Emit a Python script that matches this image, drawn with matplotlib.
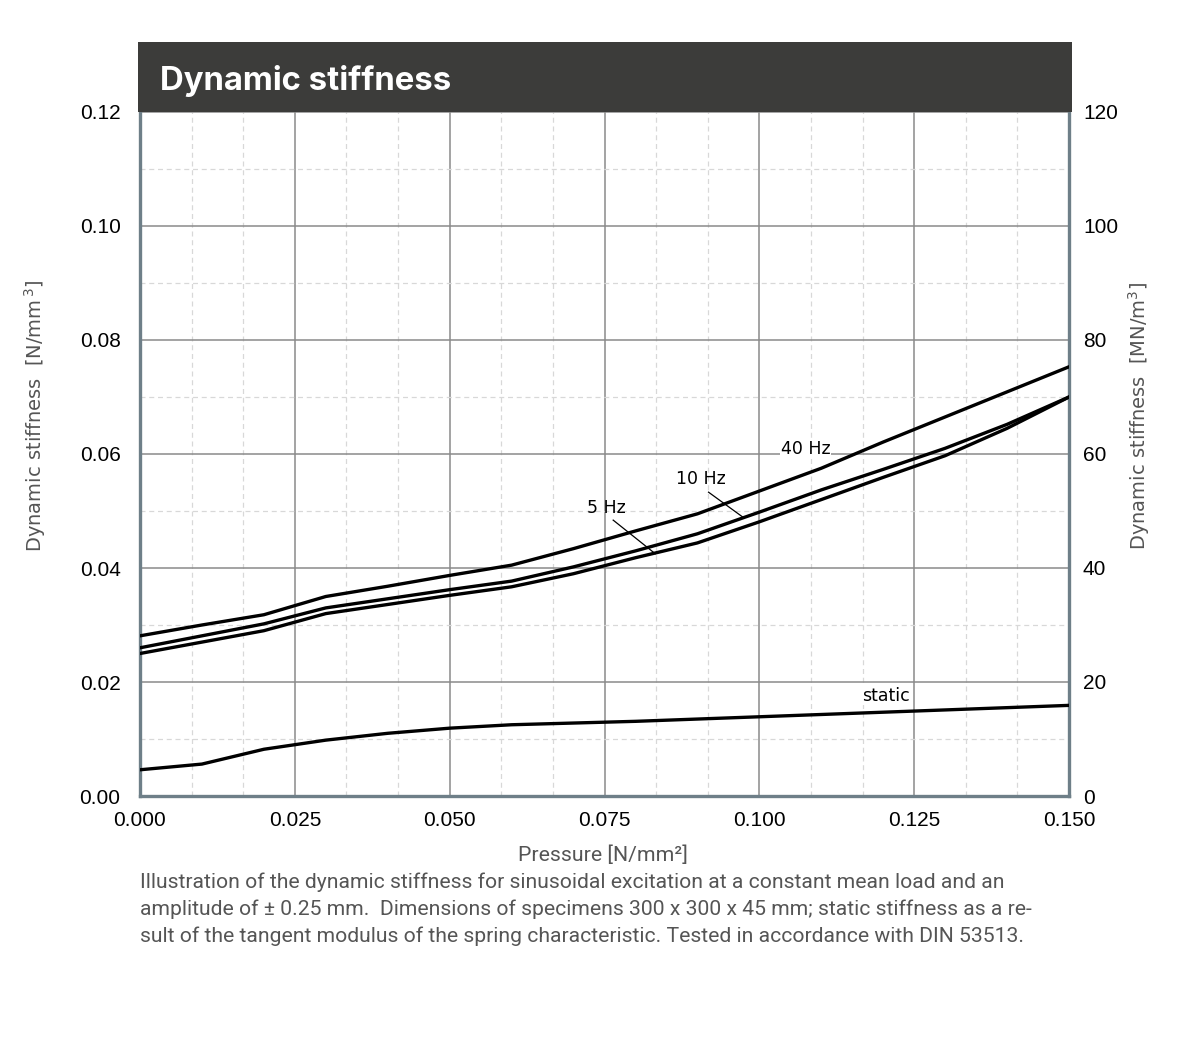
import matplotlib
matplotlib.use("Agg")
import matplotlib.pyplot as plt
import numpy as np
from matplotlib.patches import Rectangle

# ---- data ----
pressure = [0.0, 0.01, 0.02, 0.03, 0.04, 0.05, 0.06, 0.07, 0.08, 0.09, 0.10, 0.11, 0.12, 0.13, 0.14, 0.15]
hz40 = [0.0281, 0.0300, 0.0318, 0.0350, 0.0368, 0.0387, 0.0405, 0.0434, 0.0465, 0.0495, 0.0535, 0.0575, 0.0621, 0.0665, 0.0709, 0.0753]
hz10 = [0.0260, 0.0281, 0.0302, 0.0330, 0.0346, 0.0362, 0.0377, 0.0402, 0.0430, 0.0460, 0.0498, 0.0537, 0.0573, 0.0610, 0.0652, 0.0700]
hz5 = [0.0250, 0.0270, 0.0290, 0.0320, 0.0336, 0.0352, 0.0367, 0.0390, 0.0418, 0.0444, 0.0481, 0.0520, 0.0559, 0.0597, 0.0645, 0.0700]
static = [0.0046, 0.0056, 0.0082, 0.0098, 0.0110, 0.0119, 0.0125, 0.0128, 0.0131, 0.0135, 0.0139, 0.0143, 0.0147, 0.0151, 0.0155, 0.0159]
xticks = [0.000, 0.025, 0.050, 0.075, 0.100, 0.125, 0.150]
yticks = [0.00, 0.02, 0.04, 0.06, 0.08, 0.10, 0.12]
yticks_right = [0, 20, 40, 60, 80, 100, 120]

W, H = 1201, 1051
fig = plt.figure(figsize=(W / 100, H / 100), dpi=100)
L, R, T, B = 140, 1069, 112, 796
ax = fig.add_axes([L / W, 1 - B / H, (R - L) / W, (B - T) / H])

ax.set_xlim(0, 0.15)
ax.set_ylim(0, 0.12)

tickfont = dict(fontsize=15, family="Liberation Sans")
ax.set_xticks(xticks)
ax.set_xticklabels([f"{v:.3f}" for v in xticks], **tickfont)
ax.set_yticks(yticks)
ax.set_yticklabels([f"{v:.2f}" for v in yticks], **tickfont)
ax.set_xticks(np.arange(0, 0.1501, 0.025 / 3), minor=True)
ax.set_yticks(np.arange(0, 0.1201, 0.01), minor=True)
ax.tick_params(which="both", length=0)
ax.tick_params(axis="x", pad=11)
ax.tick_params(axis="y", pad=14)
ax.grid(which="major", color="#8a8a8a", lw=1.1, ls="-")
ax.grid(which="minor", color="#d8d8d8", lw=0.9, ls=(0, (4, 3)))
ax.set_axisbelow(True)

spine_c = "#6e7f88"
for s in ["left", "right", "bottom"]:
    ax.spines[s].set_color(spine_c)
    ax.spines[s].set_linewidth(2.4)
ax.spines["top"].set_visible(False)

for ys in [hz40, hz10, hz5, static]:
    ax.plot(pressure, ys, color="black", lw=2.4, solid_joinstyle="round", zorder=3)

ax2 = ax.twinx()
ax2.set_ylim(0, 120)
ax2.set_yticks(yticks_right)
ax2.set_yticklabels([str(v) for v in yticks_right], **tickfont)
ax2.tick_params(length=0, pad=10)
for s in ax2.spines.values():
    s.set_visible(False)

# curve labels
lab = dict(fontsize=12.5, ha="center", va="center", family="DejaVu Sans", zorder=4)
ax.text(0.1075, 0.0608, "40 Hz", bbox=dict(facecolor="white", edgecolor="none", pad=0.5), **lab)
ax.text(0.0905, 0.0557, "10 Hz", **lab)
ax.plot([0.0918, 0.0975], [0.0533, 0.0488], color="black", lw=0.9)
ax.text(0.0753, 0.0506, "5 Hz", **lab)
ax.plot([0.0764, 0.0832], [0.0484, 0.0425], color="black", lw=0.9)
ax.text(0.1205, 0.0176, "static", bbox=dict(facecolor="white", edgecolor="none", pad=0.5), **lab)

# axis labels
fig.text(35 / W, 1 - 416 / H, "Dynamic stiffness  [N/mm$^{\\,3}$]", rotation=90, ha="center", va="center",
         fontsize=14, color="#555555", family="DejaVu Sans")
fig.text(1139 / W, 1 - 416 / H, "Dynamic stiffness  [MN/m$^{3}$]", rotation=90, ha="center", va="center",
         fontsize=14, color="#555555", family="DejaVu Sans")
fig.text(603 / W, 1 - 855 / H, "Pressure [N/mm²]", ha="center", va="center", fontsize=15.3,
         color="#555555", family="Roboto")

# title band
fig.patches.append(Rectangle((138 / W, 1 - 112 / H), (1072 - 138) / W, 70 / H,
                             transform=fig.transFigure, facecolor="#3c3c3a", edgecolor="none", zorder=5))
fig.text(160 / W, 1 - 81 / H, "Dynamic stiffness", ha="left", va="center", fontsize=23.7,
         fontweight="bold", color="white", family="Inter", zorder=6)

# footer
footer = [
    "Illustration of the dynamic stiffness for sinusoidal excitation at a constant mean load and an",
    "amplitude of ± 0.25 mm.  Dimensions of specimens 300 x 300 x 45 mm; static stiffness as a re-",
    "sult of the tangent modulus of the spring characteristic. Tested in accordance with DIN 53513.",
]
for i, line in enumerate(footer):
    fig.text(140 / W, 1 - (882 + 27 * i) / H, line, ha="left", va="center", fontsize=15.2,
             color="#555555", family="Roboto")

fig.savefig("out.png", dpi=100, facecolor="white")
